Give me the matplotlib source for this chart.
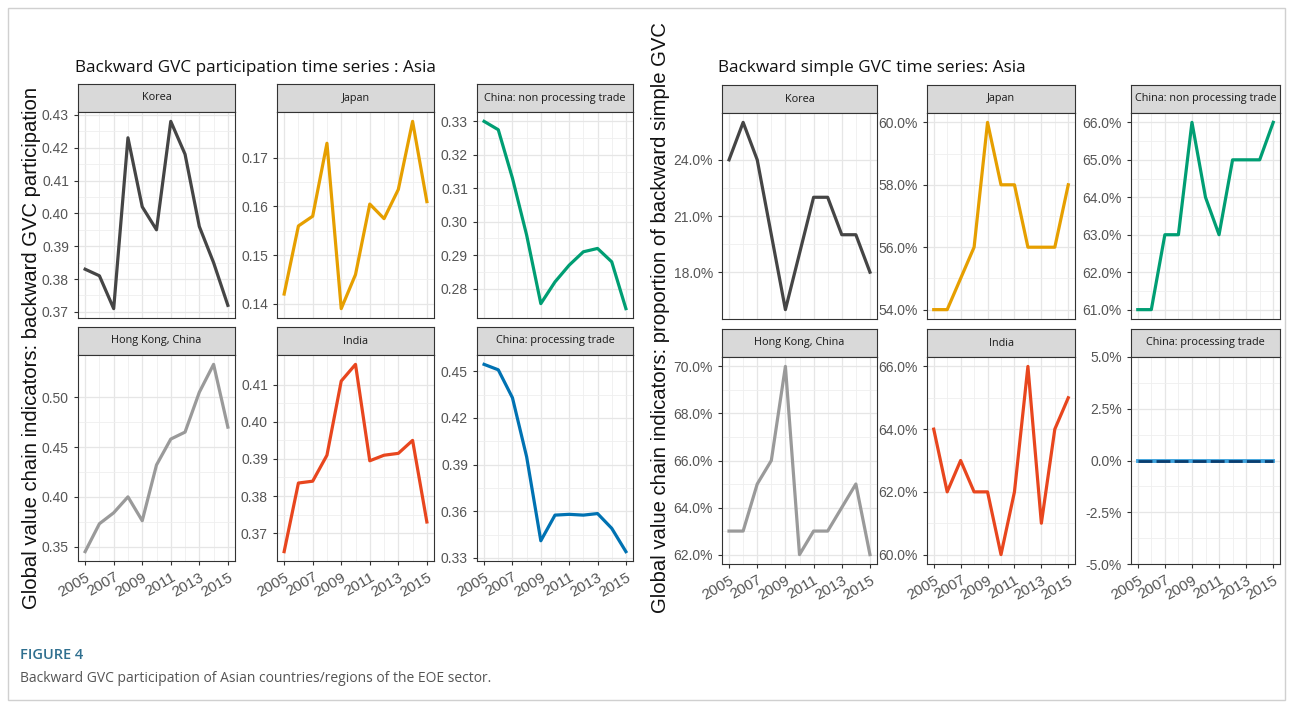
import matplotlib.pyplot as plt
from matplotlib.patches import Rectangle

years = list(range(2005, 2016))
year_ticks = [2005, 2007, 2009, 2011, 2013, 2015]

# backward GVC participation (left chart)
part_korea = [0.383, 0.381, 0.371, 0.423, 0.402, 0.395, 0.428, 0.418, 0.396, 0.385, 0.372]
part_japan = [0.142, 0.156, 0.158, 0.173, 0.139, 0.146, 0.1605, 0.1575, 0.1635, 0.1775, 0.161]
part_china_np = [0.330, 0.3275, 0.313, 0.296, 0.2755, 0.282, 0.287, 0.291, 0.292, 0.288, 0.274]
part_hk = [0.345, 0.373, 0.384, 0.400, 0.376, 0.432, 0.458, 0.465, 0.505, 0.533, 0.470]
part_india = [0.365, 0.3835, 0.384, 0.391, 0.411, 0.4155, 0.3895, 0.391, 0.3915, 0.395, 0.373]
part_china_p = [0.4545, 0.451, 0.433, 0.395, 0.341, 0.3575, 0.358, 0.3575, 0.3585, 0.349, 0.334]

# proportion of backward simple GVC, in % (right chart)
simple_korea = [24, 26, 24, 20, 16, 19, 22, 22, 20, 20, 18]
simple_japan = [54, 54, 55, 56, 60, 58, 58, 56, 56, 56, 58]
simple_china_np = [61, 61, 63, 63, 66, 64, 63, 65, 65, 65, 66]
simple_hk = [63, 63, 65, 66, 70, 62, 63, 63, 64, 65, 62]
simple_india = [64, 62, 63, 62, 62, 60, 62, 66, 61, 64, 65]
simple_china_p = [0, 0, 0, 0, 0, 0, 0, 0, 0, 0, 0]

names = ["Korea", "Japan", "China: non processing trade",
         "Hong Kong, China", "India", "China: processing trade"]
colors = ["#454545", "#E69F00", "#009E73", "#9A9A9A", "#E8461E", "#0072B2"]

part_ticks = [
    [0.37, 0.38, 0.39, 0.40, 0.41, 0.42, 0.43],
    [0.14, 0.15, 0.16, 0.17],
    [0.28, 0.29, 0.30, 0.31, 0.32, 0.33],
    [0.35, 0.40, 0.45, 0.50],
    [0.37, 0.38, 0.39, 0.40, 0.41],
    [0.33, 0.36, 0.39, 0.42, 0.45],
]
simple_ticks = [
    [18, 21, 24],
    [54, 56, 58, 60],
    [61, 62, 63, 64, 65, 66],
    [62, 64, 66, 68, 70],
    [60, 62, 64, 66],
    [-5, -2.5, 0, 2.5, 5],
]

W, H = 1293, 708
fig = plt.figure(figsize=(W / 100, H / 100), dpi=100)
fig.patch.set_facecolor("white")


def px_axes(x0, y0, x1, y1, **kw):
    return fig.add_axes([x0 / W, 1 - y1 / H, (x1 - x0) / W, (y1 - y0) / H], **kw)


def panel(box, vals, color, name, ticks, fmt, bottom, dashed=False):
    x0, x1, s0, s1, y1 = box
    st = px_axes(x0, s0, x1, s1, facecolor="#D9D9D9")
    st.set_xticks([])
    st.set_yticks([])
    for sp in st.spines.values():
        sp.set_color("#333333")
        sp.set_linewidth(0.8)
    st.text(0.5, 0.5, name, ha="center", va="center", fontsize=7.8,
            color="#1A1A1A", family="Open Sans", transform=st.transAxes)

    ax = px_axes(x0, s1, x1, y1)
    if dashed:
        ax.plot(years, vals, color="#3FA3DD", lw=2.8, zorder=3)
        ax.plot(years, vals, color="#0B3D6E", lw=2.0, dashes=(5, 1.5), zorder=4)
    else:
        ax.plot(years, vals, color=color, lw=2.3, zorder=3)
    lo, hi = min(vals), max(vals)
    if hi == lo:
        ax.set_ylim(lo + ticks[0], lo + ticks[-1])
    else:
        pad = 0.05 * (hi - lo)
        ax.set_ylim(lo - pad, hi + pad)
    ax.set_xlim(2004.5, 2015.5)
    ax.set_xticks(year_ticks)
    ax.set_xticks([y for y in years if y not in year_ticks], minor=True)
    ax.set_yticks(ticks)
    ax.set_yticks([(a + b) / 2 for a, b in zip(ticks[:-1], ticks[1:])], minor=True)
    ax.set_yticklabels([fmt(t) for t in ticks])
    ax.grid(True, which="major", color="#E6E6E6", lw=0.9)
    ax.grid(True, which="minor", color="#EFEFEF", lw=0.6)
    ax.set_axisbelow(True)
    for sp in ax.spines.values():
        sp.set_color("#333333")
        sp.set_linewidth(0.8)
    ax.tick_params(which="major", length=3, color="#333333", labelsize=10,
                   labelcolor="#555555")
    ax.tick_params(which="minor", length=0)
    if bottom:
        ax.set_xticklabels([str(y) for y in year_ticks], rotation=30, ha="right",
                           rotation_mode="anchor", fontsize=11)
    else:
        ax.tick_params(axis="x", which="major", length=0, labelbottom=False)
    for lab in ax.get_xticklabels() + ax.get_yticklabels():
        lab.set_family("Liberation Sans")
    return ax


left_cols = [(78, 235), (277, 434), (477, 633)]
right_cols = [(722, 877), (927, 1075), (1131, 1280)]
left_rows = [(84, 112, 318), (327, 355, 561)]
right_rows = [(85, 113, 319), (329, 357, 564)]

part_series = [part_korea, part_japan, part_china_np, part_hk, part_india, part_china_p]
simple_series = [simple_korea, simple_japan, simple_china_np, simple_hk, simple_india,
                 simple_china_p]

for i in range(6):
    r, c = divmod(i, 3)
    box = (left_cols[c][0], left_cols[c][1]) + left_rows[r]
    panel(box, part_series[i], colors[i], names[i], part_ticks[i],
          lambda t: f"{t:.2f}", bottom=(r == 1))
    box = (right_cols[c][0], right_cols[c][1]) + right_rows[r]
    panel(box, simple_series[i], colors[i], names[i], simple_ticks[i],
          lambda t: f"{t:.1f}%", bottom=(r == 1), dashed=(i == 5))

fig.text(75 / W, 1 - 68 / H, "Backward GVC participation time series : Asia",
         fontsize=12.3, family="Open Sans", color="#111111", va="center")
fig.text(718 / W, 1 - 68 / H, "Backward simple GVC time series: Asia",
         fontsize=12.3, family="Open Sans", color="#111111", va="center")
fig.text(32 / W, 1 - 348 / H, "Global value chain indicators: backward GVC participation",
         rotation=90, ha="center", va="center", fontsize=14.6,
         family="Liberation Sans", color="#111111")
fig.text(660 / W, 1 - 318 / H,
         "Global value chain indicators: proportion of backward simple GVC",
         rotation=90, ha="center", va="center", fontsize=14.6,
         family="Liberation Sans", color="#111111")

fig.text(20 / W, 1 - 655 / H, "FIGURE 4", fontsize=10.5, color="#2F6F8F",
         family="Open Sans", fontweight="semibold", va="center")
fig.text(20 / W, 1 - 678 / H,
         "Backward GVC participation of Asian countries/regions of the EOE sector.",
         fontsize=10, color="#555555", family="Open Sans", va="center")

fig.patches.append(Rectangle((8 / W, 8 / H), (W - 16) / W, (H - 16) / H,
                             transform=fig.transFigure, fill=False,
                             edgecolor="#D0D0D0", lw=1))

fig.savefig("out.png", dpi=100)
